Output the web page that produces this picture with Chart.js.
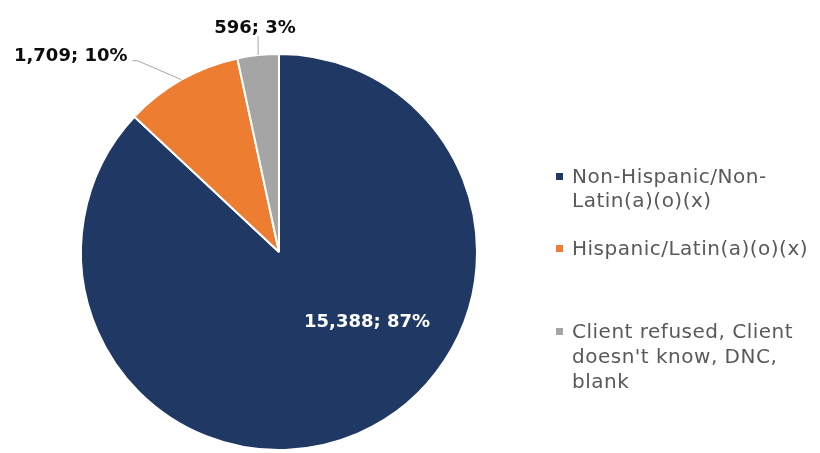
<!DOCTYPE html>
<html>
<head>
<meta charset="utf-8">
<script src="https://cdn.jsdelivr.net/npm/chart.js@4"></script>
<style>
    html, body { margin: 0; padding: 0; background: #fff; }
    #wrap { width: 820px; height: 453px; }
</style>
</head>
<body>
<div id="wrap"><canvas id="pie" width="820" height="453"></canvas></div>
<script>
// ===== DATA =====
const categories = ['Non-Hispanic/Non-Latin(a)(o)(x)', 'Hispanic/Latin(a)(o)(x)', "Client refused, Client doesn't know, DNC, blank"];
const legendLines = [
    ['Non-Hispanic/Non-', 'Latin(a)(o)(x)'],
    ['Hispanic/Latin(a)(o)(x)'],
    ['Client refused, Client', "doesn't know, DNC,", 'blank']
];
const counts = [15388, 1709, 596];
const percents = [87, 10, 3];
const colors = ['#203864', '#ED7D31', '#A5A5A5'];

const FONT = '"DejaVu Sans", sans-serif';

// labels + leader lines, placed from each arc's geometry
const sliceLabels = {
    id: 'sliceLabels',
    afterDraw(chart) {
        const ctx = chart.ctx;
        const arcs = chart.getDatasetMeta(0).data;
        const text = i => counts[i].toLocaleString('en-US') + '; ' + percents[i] + '%';

        ctx.save();
        ctx.font = 'bold 18px ' + FONT;
        ctx.textBaseline = 'alphabetic';

        // big slice: inside, white
        const a0 = arcs[0];
        ctx.fillStyle = '#ffffff';
        ctx.textAlign = 'center';
        ctx.fillText(text(0), a0.x + 88, a0.y + 75);

        ctx.strokeStyle = '#A6A6A6';
        ctx.lineWidth = 1;
        ctx.fillStyle = '#0d0d0d';

        // orange slice: leader to the upper left
        const a1 = arcs[1];
        const m1 = (a1.startAngle + a1.endAngle) / 2;
        const e1x = a1.x + Math.cos(m1) * a1.outerRadius;
        const e1y = a1.y + Math.sin(m1) * a1.outerRadius;
        ctx.beginPath();
        ctx.moveTo(e1x, e1y);
        ctx.lineTo(e1x - 44, e1y - 19);
        ctx.lineTo(e1x - 49, e1y - 19);
        ctx.stroke();
        ctx.textAlign = 'right';
        ctx.fillText(text(1), e1x - 54, e1y - 19);

        // gray slice: leader straight up
        const a2 = arcs[2];
        const m2 = (a2.startAngle + a2.endAngle) / 2;
        const e2x = a2.x + Math.cos(m2) * a2.outerRadius;
        const e2y = a2.y + Math.sin(m2) * a2.outerRadius;
        ctx.beginPath();
        ctx.moveTo(e2x, e2y);
        ctx.lineTo(e2x, e2y - 19);
        ctx.stroke();
        ctx.textAlign = 'center';
        ctx.fillText(text(2), e2x - 3, e2y - 22);
        ctx.restore();
    }
};

// legend on the right, wrapped as in the original
const sideLegend = {
    id: 'sideLegend',
    afterDraw(chart) {
        const ctx = chart.ctx;
        const baselines = [[183, 207], [255], [338, 363, 388]];
        ctx.save();
        ctx.font = '20px ' + FONT;
        ctx.letterSpacing = '0.5px';
        ctx.textAlign = 'left';
        ctx.textBaseline = 'alphabetic';
        legendLines.forEach((lines, i) => {
            const b = baselines[i];
            ctx.fillStyle = colors[i];
            ctx.fillRect(556, b[0] - 10, 7, 7);
            ctx.fillStyle = '#595959';
            lines.forEach((ln, j) => ctx.fillText(ln, 572, b[j]));
        });
        ctx.restore();
    }
};

new Chart(document.getElementById('pie'), {
    type: 'pie',
    data: {
        labels: categories,
        datasets: [{
            data: counts,
            backgroundColor: colors,
            borderColor: '#ffffff',
            borderWidth: 2
        }]
    },
    options: {
        responsive: false,
        animation: false,
        layout: { padding: { left: 80, right: 342, top: 53, bottom: 2 } },
        plugins: {
            legend: { display: false },
            tooltip: { enabled: false }
        }
    },
    plugins: [sliceLabels, sideLegend]
});
</script>
</body>
</html>
